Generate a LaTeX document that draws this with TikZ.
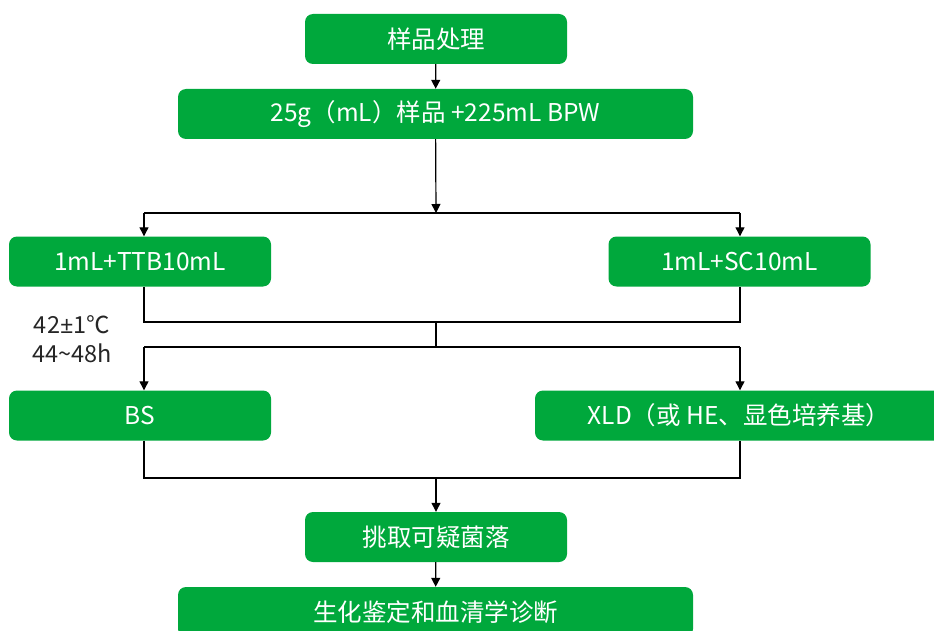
\documentclass[tikz,border=0pt]{standalone}
\usepackage{fontspec}
\newfontfamily\cjk{Noto Sans CJK SC}
\newfontfamily\latn{Noto Sans}
\usetikzlibrary{arrows.meta, positioning}
\definecolor{boxgreen}{RGB}{0,168,60}

\begin{document}
\begin{tikzpicture}[
    x=1pt, y=-1pt,
    stepbox/.style={rectangle, rounded corners=8pt, fill=boxgreen,
                    text=white, minimum height=50pt, inner sep=0pt,
                    font=\cjk\fontsize{24.5}{28}\selectfont},
    narrow/.style={stepbox, minimum width=262pt},
    wide/.style={stepbox, minimum width=515pt},
    arr/.style={-{Triangle[length=9pt, width=9pt]}, line width=1.2pt, black},
    conn/.style={line width=1.2pt, black},
    note/.style={font=\cjk\fontsize{23.5}{29}\selectfont, text=black!85,
                 align=center, inner sep=0pt},
]
  \useasboundingbox (0,0) rectangle (934,631);

  \node[narrow] (start) at (436, 39)   {样品处理};
  \node[wide]   (prep)  at (435.5,114) {25g（mL）样品 +225mL BPW};
  \node[narrow] (ttb)   at (140,261.5) {1mL+TTB10mL};
  \node[narrow] (sc)    at (739.5,261.5) {1mL+SC10mL};
  \node[narrow] (bs)    at (140,415.5) {BS};
  \node[stepbox, minimum width=408pt]
                (xld)   at (739,415.5) {XLD（或 HE、显色培养基）};
  \node[narrow] (pick)  at (436,537)   {挑取可疑菌落};
  \node[wide]   (ident) at (435.5,612) {生化鉴定和血清学诊断};

  \node[note] (cond) at (72,339) {42{\latn ±}1℃\\44\char"7E 48h};

  % junctions
  \coordinate (split) at (436,213);
  \coordinate (splitL) at (144,213);
  \coordinate (splitR) at (740,213);
  \coordinate (merge) at (436,322);
  \coordinate (fork) at (436,347);
  \coordinate (forkL) at (144,347);
  \coordinate (forkR) at (740,347);
  \coordinate (join) at (436,478);

  \draw[arr] (start) -- (prep);
  \draw[arr] (prep) -- (split);
  \draw[conn] (splitL) -- (splitR);
  \draw[arr] (splitL) -- (splitL |- ttb.north);
  \draw[arr] (splitR) -- (splitR |- sc.north);

  \draw[conn] (splitL |- ttb.south) |- (merge) -| (splitR |- sc.south);
  \draw[conn] (merge) -- (fork);
  \draw[conn] (forkL) -- (forkR);
  \draw[arr] (forkL) -- (forkL |- bs.north);
  \draw[arr] (forkR) -- (forkR |- xld.north);

  \draw[conn] (forkL |- bs.south) |- (join) -| (forkR |- xld.south);
  \draw[arr] (join) -- (pick);
  \draw[arr] (pick) -- (ident);
\end{tikzpicture}
\end{document}
